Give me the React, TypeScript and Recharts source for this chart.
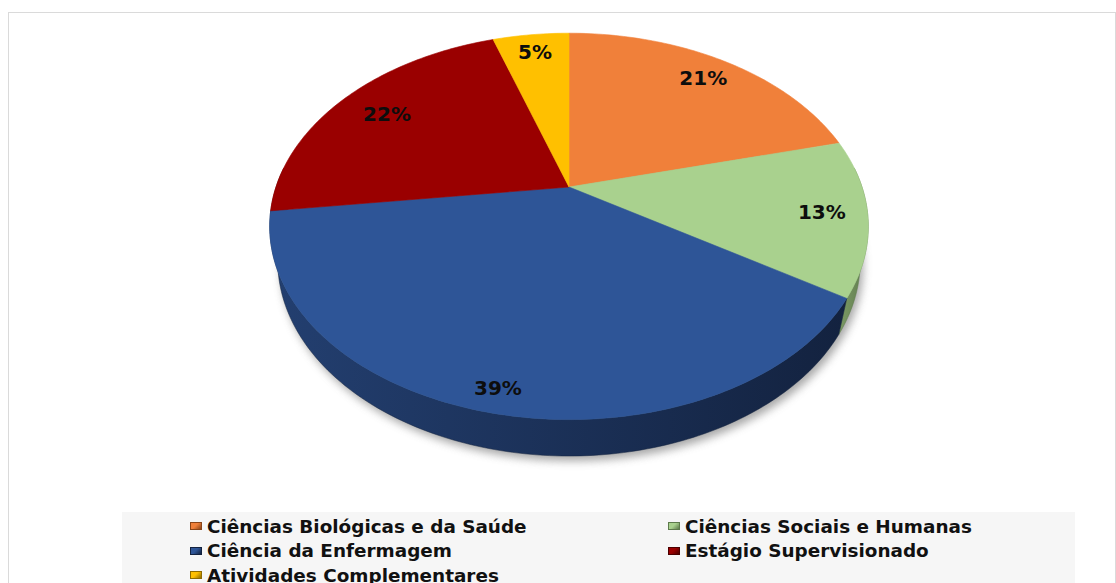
import React from 'react';
import { PieChart, Pie, Legend } from 'recharts';

const categories = [
  'Ciências Biológicas e da Saúde',
  'Ciências Sociais e Humanas',
  'Ciência da Enfermagem',
  'Estágio Supervisionado',
  'Atividades Complementares',
];
const values = [21, 13, 39, 22, 5];
const topColors = ['#F0803A', '#A9D18E', '#2E5597', '#9A0000', '#FFC000'];
const sideLight = ['#b8622a', '#7c9a66', '#233f70', '#6e0000', '#c49300'];
const sideDark = ['#8a4519', '#5d7a4b', '#13223f', '#4a0000', '#8f6b00'];
// radial placement of each percentage label (fraction of radius)
const labelRadius = [0.85, 0.85, 0.91, 0.8, 0.87];

const data = categories.map((name, i) => ({ name, value: values[i] }));

// perspective camera (unit circle scaled by outerRadius)
const DIST = 3.8;
const SIN_T = 0.632;
const COS_T = 0.775;
const THICK = 0.159;
const FONT = "'DejaVu Sans', Verdana, sans-serif";

function proj(cx: number, cy: number, R: number, aDeg: number, r: number, h: number): [number, number] {
  const rad = (aDeg * Math.PI) / 180;
  const X = r * Math.cos(rad);
  const Z = r * Math.sin(rad);
  const depth = DIST + Z * COS_T - h * SIN_T;
  const F = R * DIST;
  return [cx + (F * X) / depth, cy - (F * (Z * SIN_T + h * COS_T)) / depth];
}

function arcPts(cx: number, cy: number, R: number, a1: number, a2: number, h: number) {
  const n = Math.max(2, Math.ceil(Math.abs(a2 - a1)));
  const pts: string[] = [];
  for (let k = 0; k <= n; k++) {
    const a = a1 + ((a2 - a1) * k) / n;
    const [x, y] = proj(cx, cy, R, a, 1, h);
    pts.push(`${x.toFixed(2)},${y.toFixed(2)}`);
  }
  return pts;
}

const renderWall = (p: any) => {
  const { cx, cy, outerRadius, startAngle, endAngle, index } = p;
  const lo = Math.max(Math.min(startAngle, endAngle), -186);
  const hi = Math.min(Math.max(startAngle, endAngle), 6);
  const parts: React.ReactNode[] = [];
  if (index === 0) {
    const rim = arcPts(cx, cy, outerRadius, 0, 360, -THICK);
    parts.push(
      <path
        key="shadow"
        d={`M${rim.join('L')}Z`}
        fill="#8c8c8c"
        opacity={0.75}
        filter="url(#pieShadow)"
        transform="translate(3,5)"
      />
    );
  }
  if (lo < hi) {
    const top = arcPts(cx, cy, outerRadius, hi, lo, 0);
    const bot = arcPts(cx, cy, outerRadius, lo, hi, -THICK);
    parts.push(
      <path key="wall" d={`M${top.join('L')}L${bot.join('L')}Z`} fill={`url(#side${index})`} stroke={sideDark[index]} strokeWidth={0.5} />
    );
  }
  return <g key={`w${index}`}>{parts}</g>;
};

const renderFace = (p: any) => {
  const { cx, cy, outerRadius, startAngle, endAngle, midAngle, index, value } = p;
  const arc = arcPts(cx, cy, outerRadius, startAngle, endAngle, 0);
  const [tx, ty] = proj(cx, cy, outerRadius, midAngle, labelRadius[index], 0);
  return (
    <g key={`f${index}`}>
      <path d={`M${cx},${cy}L${arc.join('L')}Z`} fill={topColors[index]} stroke={topColors[index]} strokeWidth={0.6} />
      <text
        x={tx}
        y={ty}
        textAnchor="middle"
        dominantBaseline="central"
        fontFamily={FONT}
        fontWeight="bold"
        fontSize={20}
        fill="#0d0d0d"
      >
        {`${value}%`}
      </text>
    </g>
  );
};

const LegendContent = () => (
  <div
    style={{
      background: '#f6f6f6',
      width: '100%',
      height: '100%',
      boxSizing: 'border-box',
      paddingTop: 2,
      paddingLeft: 68,
      display: 'grid',
      gridTemplateColumns: '478px 400px',
      gridAutoRows: '24.5px',
      fontFamily: FONT,
      fontWeight: 'bold',
      fontSize: 18.4,
      color: '#111',
    }}
  >
    {categories.map((c, i) => (
      <div key={c} style={{ display: 'flex', alignItems: 'center', whiteSpace: 'nowrap' }}>
        <span
          style={{
            display: 'inline-block',
            width: 12,
            height: 8,
            marginRight: 5,
            background: `linear-gradient(135deg, ${topColors[i]} 0%, ${topColors[i]} 45%, ${sideDark[i]} 100%)`,
            border: `1px solid ${sideDark[i]}`,
            boxSizing: 'border-box',
          }}
        />
        {c}
      </div>
    ))}
  </div>
);

export default function App() {
  return (
    <div style={{ position: 'relative', width: 1116, height: 583, overflow: 'hidden', background: '#fff' }}>
      <style>{'html,body{margin:0;padding:0;overflow:hidden;}'}</style>
      <div
        style={{
          position: 'absolute',
          left: 8,
          top: 12,
          width: 1106,
          height: 640,
          border: '1px solid #dadada',
        }}
      />
      <div style={{ position: 'absolute', left: 0, top: 0 }}>
        <PieChart width={1116} height={583} margin={{ top: 0, right: 0, bottom: 0, left: 0 }}>
          <defs>
            <filter id="pieShadow" x="-10%" y="-10%" width="120%" height="130%">
              <feGaussianBlur stdDeviation="4" />
            </filter>
            {sideLight.map((c, i) => (
              <linearGradient key={i} id={`side${i}`} x1="0" y1="0" x2="1" y2="0">
                <stop offset="0%" stopColor={c} />
                <stop offset="100%" stopColor={sideDark[i]} />
              </linearGradient>
            ))}
          </defs>
          <Pie
            data={data}
            dataKey="value"
            nameKey="name"
            cx={569}
            cy={187}
            outerRadius={293}
            startAngle={90}
            endAngle={-270}
            fill="none"
            stroke="none"
            label={renderWall}
            labelLine={false}
            legendType="none"
            isAnimationActive={false}
          />
          <Pie
            data={data}
            dataKey="value"
            nameKey="name"
            cx={569}
            cy={187}
            outerRadius={293}
            startAngle={90}
            endAngle={-270}
            fill="none"
            stroke="none"
            label={renderFace}
            labelLine={false}
            isAnimationActive={false}
          />
          <Legend
            content={<LegendContent />}
            wrapperStyle={{ position: 'absolute', left: 122, top: 512, width: 953, height: 80, bottom: 'auto' }}
          />
        </PieChart>
      </div>
    </div>
  );
}
